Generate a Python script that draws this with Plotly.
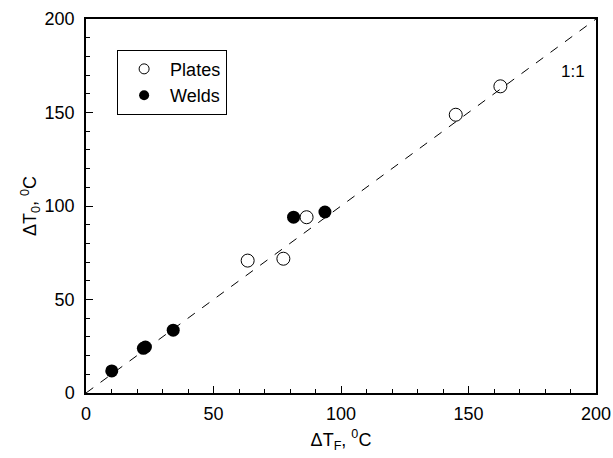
import plotly.graph_objects as go

plates_x = [63.4, 77.4, 86.5, 145.0, 162.5]
plates_y = [70.8, 71.8, 94.0, 148.8, 164.0]
welds_x = [10.1, 22.5, 23.3, 34.2, 81.4, 93.7]
welds_y = [11.8, 23.9, 24.6, 33.6, 94.0, 96.8]
line_x = [0, 200]
line_y = [0, 200]
tick_vals = [0, 50, 100, 150, 200]

font = "Liberation Sans, Arial, sans-serif"

fig = go.Figure()
fig.add_trace(go.Scatter(x=line_x, y=line_y, mode="lines",
                         line=dict(color="black", width=1, dash="dash"),
                         showlegend=False, hoverinfo="skip"))
fig.add_trace(go.Scatter(x=plates_x, y=plates_y, mode="markers", name="Plates",
                         showlegend=False,
                         marker=dict(symbol="circle-open", size=13, color="black",
                                     line=dict(width=1, color="black"))))
fig.add_trace(go.Scatter(x=welds_x, y=welds_y, mode="markers", name="Welds",
                         showlegend=False,
                         marker=dict(symbol="circle", size=13, color="black")))
# legend entries (smaller symbols, as in the reference)
fig.add_trace(go.Scatter(x=[None], y=[None], mode="markers", name="Plates",
                         marker=dict(symbol="circle-open", size=10, color="black",
                                     line=dict(width=1, color="black"))))
fig.add_trace(go.Scatter(x=[None], y=[None], mode="markers", name="Welds",
                         marker=dict(symbol="circle", size=10, color="black")))

axis_common = dict(range=[0, 200], showgrid=False, zeroline=False, showline=True,
                   linecolor="black", linewidth=1.5, mirror=True, automargin=False,
                   ticks="inside", ticklen=7, tickwidth=1, tickcolor="black",
                   tickvals=tick_vals,
                   minor=dict(ticks="inside", ticklen=4, tickwidth=1, tickcolor="black", dtick=10),
                   tickfont=dict(family=font, size=18, color="black"))

fig.update_xaxes(**axis_common, ticklabelstandoff=4,
                 title=dict(text="ΔT<sub>F</sub>, <sup>0</sup>C",
                            font=dict(family=font, size=18, color="black"), standoff=10))
fig.update_yaxes(**axis_common, ticklabelstandoff=6,
                 title=dict(text="ΔT<sub>0</sub>, <sup>0</sup>C",
                            font=dict(family=font, size=18, color="black"), standoff=3))

fig.add_annotation(x=191, y=172, text="1:1", showarrow=False,
                   font=dict(family=font, size=17, color="black"))

fig.update_layout(width=613, height=458,
                  margin=dict(l=86, r=17, t=19, b=65),
                  plot_bgcolor="white", paper_bgcolor="white",
                  legend=dict(x=0.061, y=0.918, xanchor="left", yanchor="top",
                              bordercolor="black", borderwidth=1, bgcolor="white",
                              font=dict(family=font, size=18, color="black"),
                              itemwidth=42, tracegroupgap=0))

fig.write_html("out.html", config={"displayModeBar": False},
               post_script="document.body.style.margin='0';document.body.style.overflow='hidden';")
